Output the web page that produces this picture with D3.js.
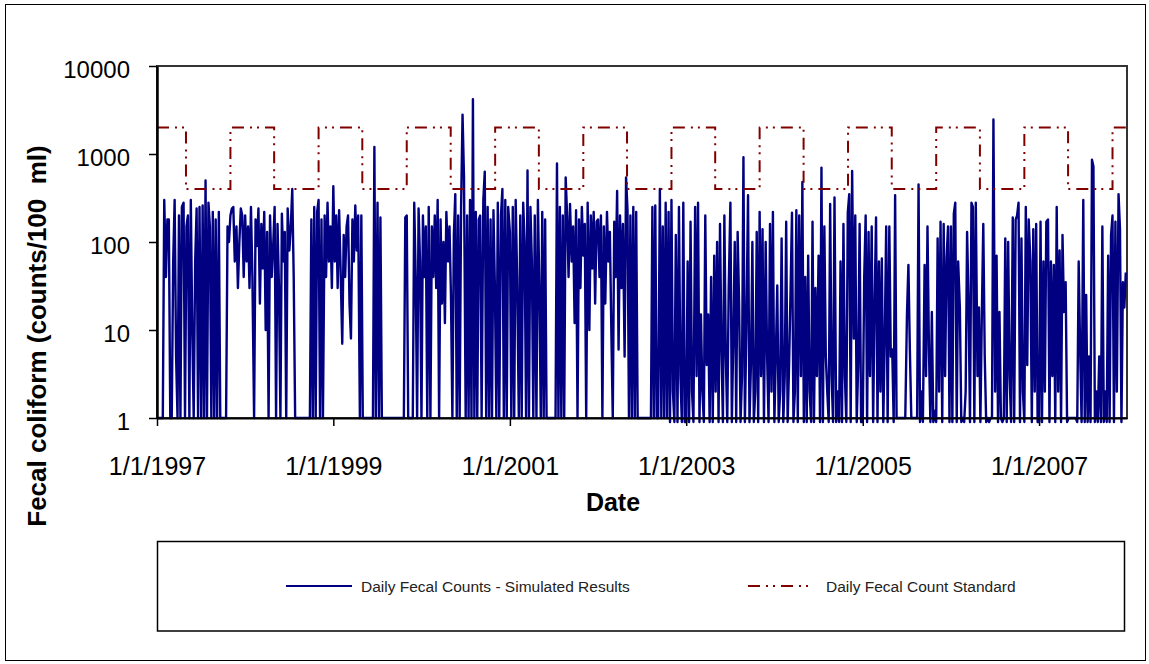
<!DOCTYPE html>
<html>
<head>
<meta charset="utf-8">
<script src="https://cdn.jsdelivr.net/npm/d3@7"></script>
<style>
  html, body { margin: 0; padding: 0; background: #fff; }
  svg { display: block; font-family: "Liberation Sans", Arial, sans-serif; }
</style>
</head>
<body>
<svg id="chart" width="1149" height="664"></svg>
<script>
// ---- Simulated daily fecal coliform counts (counts/100 ml), sampled ~every 6 days ----
const seriesYears = [1997, 1998, 1999, 2000, 2001, 2002, 2003, 2004, 2005, 2006, 2007];

const fc1997 = [1,1,1,1,1,300,40,180,180,1, 1,60,300,5,1,200,1,250,280,1, 150,200,1,300,10,1,60,240,1,250,
                1,260,1,500,1,280,150,1,220,1, 180,1,220,1,1,1,1,1,150,100, 200,240,250,60,150,30,100,240,200,40];
const fc1998 = [200,60,150,30,250,40,1,180,90,240, 20,160,50,220,10,130,1,200,40,90, 250,1,160,30,1,210,60,130,1,240,
                80,150,400,40,1,1,1,1,1,1, 1,1,1,1,1,180,1,250,1,220, 300,1,180,1,200,40,280,60,150,30];
const fc1999 = [430,60,200,30,230,50,7,120,40,150, 200,20,8,180,60,260,80,200,1,200, 1,1,1,1,1,1,1,1,1200,1,
                280,1,190,1,1,1,1,1,1,1, 1,1,1,1,1,1,1,1,1,190, 200,1,1,1,1,280,40,1,240,60];
const fc2000 = [1,200,40,150,1,250,1,150,40,200, 30,300,1,180,20,100,12,220,60,150, 25,1,120,350,1,200,1,250,2800,550,
                1,200,1,300,1,4200,1,220,1,180, 200,1,300,630,1,250,1,180,1,230, 30,1,280,1,200,400,1,300,1,250];
const fc2001 = [130,1,250,1,300,40,1,200,1,280, 100,1,650,1,250,60,1,200,1,300, 30,1,220,1,180,1,1,1,1,1,
                1,1,780,1,250,1,200,1,540,200, 40,270,60,150,12,230,1,180,30,250, 70,160,1,280,10,200,50,220,20,170];
const fc2002 = [180,40,200,1,150,20,220,60,130,10, 1,170,40,380,6,200,30,160,5,540, 230,1,200,1,250,1,220,1,1,1,
                1,1,1,1,1,1,1,250,1,260, 1,1,400,1,150,1,280,1,220,0.9, 300,2,0.9,120,0.9,250,3,0.9,280,0.9];
const fc2003 = [0.9,60,0.9,170,2,0.9,250,3,280,0.9, 15,2,0.9,200,4,15,0.9,40,0.9,70, 2,100,0.9,160,6,0.9,200,5,0.9,30,
                280,0.9,8,100,0.9,130,20,0.9,3,920, 0.9,10,340,0.9,4,100,0.9,2,130,0.9, 220,3,140,0.9,100,5,0.9,160,2,220];
const fc2004 = [0.9,5,32,0.9,2,110,0.9,3,170,0.9, 4,28,215,0.9,2,230,0.9,200,3,480, 0.9,40,0.9,70,2,0.9,170,0.9,30,3,
                70,0.9,700,0.9,150,5,2,0.9,270,3, 0.9,320,0.9,2,0.9,60,0.9,160,3,0.9, 215,350,0.9,640,8,200,0.9,4,160,0.9];
const fc2005 = [0.9,40,200,0.9,130,3,150,0.9,20,190, 0.9,60,2,65,0.9,8,150,0.9,150,5, 6,0.9,340,1,1,1,1,1,1,1,
                15,55,6,1,1,1,1,1,450,0.9, 2,0.9,55,3,150,6,0.9,16,0.9,1.2, 0.9,110,2,170,0.9,160,3,65,150,0.9];
const fc2006 = [150,0.9,210,280,0.9,60,18,0.9,1,0.9, 2,130,20,0.9,280,250,0.9,280,3,18, 0.9,15,160,5,0.9,1,0.9,1,1,2470,
                2,70,0.9,16,1,0.9,1,110,0.9,100, 3,0.9,190,0.9,180,200,280,0.9,110,2, 0.9,250,4,180,60,0.9,140,2,160,0.9];
const fc2007 = [0.9,170,0.9,60,2,170,180,0.9,60,3, 55,0.9,250,2,80,0.9,120,16,35,0.9, 1,1,1,1,1,1,0.9,60,6,0.9,
                300,0.9,25,0.9,5,0.9,860,720,0.9,2, 0.9,5,0.9,150,0.9,2,0.9,70,0.9,120, 200,0.9,170,2,350,140,0.9,35,18,45];

const dailyCounts = [fc1997, fc1998, fc1999, fc2000, fc2001, fc2002, fc2003, fc2004, fc2005, fc2006, fc2007];

// ---- Seasonal standard: step changes (value holds until the next date) ----
const standardDates = ["1997-01-01","1997-05-01","1997-11-01","1998-05-01","1998-11-01","1999-05-01","1999-11-01",
                       "2000-05-01","2000-11-01","2001-05-01","2001-11-01","2002-05-01","2002-11-01","2003-05-01",
                       "2003-11-01","2004-05-01","2004-11-01","2005-05-01","2005-11-01","2006-05-01","2006-11-01",
                       "2007-05-01","2007-11-01","2007-12-31"];
const standardValues = [2000,400,2000,400,2000,400,2000,400,2000,400,2000,400,2000,400,2000,400,2000,400,2000,400,2000,400,2000,2000];

// ---- Axis ticks and labels ----
const yTickValues = [1, 10, 100, 1000, 10000];
const xTickLabels = ["1/1/1997", "1/1/1999", "1/1/2001", "1/1/2003", "1/1/2005", "1/1/2007"];
const xDomain = ["1997-01-01", "2007-12-31"];
const legendLabels = ["Daily Fecal Counts - Simulated Results", "Daily Fecal Count Standard"];

// ---- Build rows ----
const parseISO = d3.timeParse("%Y-%m-%d");
const parseTick = d3.timeParse("%m/%d/%Y");

const daily = [];
seriesYears.forEach((yr, k) => {
  const vals = dailyCounts[k];
  vals.forEach((v, i) => {
    daily.push({ date: new Date(yr, 0, 1 + Math.round(i * 365 / vals.length)), value: v });
  });
});
const standard = standardDates.map((d, i) => ({ date: parseISO(d), value: standardValues[i] }));

// ---- Layout ----
const plot = { left: 157, right: 1127, top: 66, bottom: 418 };
const svg = d3.select("#chart");

const x = d3.scaleTime().domain(xDomain.map(parseISO)).range([plot.left, plot.right]);
const y = d3.scaleLog().domain([1, 10000]).range([plot.bottom, plot.top]);

const navy = "#000080";
const maroon = "#800000";
const dashPattern = "12,6,2,5,2,6";

// outer chart border
svg.append("rect")
  .attr("x", 5.5).attr("y", 4.5).attr("width", 1140).attr("height", 656)
  .attr("fill", "#fff").attr("stroke", "#000").attr("stroke-width", 1);

// plot area frame
svg.append("rect")
  .attr("x", plot.left).attr("y", plot.top)
  .attr("width", plot.right - plot.left).attr("height", plot.bottom - plot.top)
  .attr("fill", "none").attr("stroke", "#333").attr("stroke-width", 2);

// simulated daily counts
const countLine = d3.line().x(d => x(d.date)).y(d => y(d.value));
svg.append("path")
  .datum(daily)
  .attr("d", countLine)
  .attr("fill", "none")
  .attr("stroke", navy)
  .attr("stroke-width", 2.4)
  .attr("stroke-linejoin", "round");

// standard step line
const stdLine = d3.line().x(d => x(d.date)).y(d => y(d.value)).curve(d3.curveStepAfter);
svg.append("path")
  .datum(standard)
  .attr("d", stdLine)
  .attr("fill", "none")
  .attr("stroke", maroon)
  .attr("stroke-width", 2)
  .attr("stroke-dasharray", dashPattern);

// y axis
const yAxis = d3.axisLeft(y).tickValues(yTickValues).tickFormat(d3.format("d")).tickSize(8).tickSizeOuter(0).tickPadding(19);
const gy = svg.append("g").attr("transform", `translate(${plot.left},0)`).call(yAxis);
gy.select(".domain").attr("stroke", "#000").attr("stroke-width", 2.5);
gy.selectAll(".tick line").attr("stroke", "#000").attr("stroke-width", 1.5);
gy.selectAll(".tick text").attr("font-size", 24).attr("fill", "#000")
  .attr("font-family", "'Liberation Sans', Arial, sans-serif").attr("dy", "0.48em");

// x axis
const xAxis = d3.axisBottom(x).tickValues(xTickLabels.map(parseTick))
  .tickFormat(d3.timeFormat("%-m/%-d/%Y")).tickSize(8).tickSizeOuter(0).tickPadding(31);
const gx = svg.append("g").attr("transform", `translate(0,${plot.bottom})`).call(xAxis);
gx.select(".domain").attr("stroke", "#000").attr("stroke-width", 2);
gx.selectAll(".tick line").attr("stroke", "#000").attr("stroke-width", 1.5);
gx.selectAll(".tick text").attr("font-size", 25).attr("fill", "#000")
  .attr("font-family", "'Liberation Sans', Arial, sans-serif");

// axis titles
svg.append("text")
  .attr("x", 613).attr("y", 511)
  .attr("text-anchor", "middle")
  .attr("font-size", 25).attr("font-weight", "bold")
  .text("Date");

svg.append("text")
  .attr("transform", "translate(46,336) rotate(-90)")
  .attr("text-anchor", "middle")
  .attr("font-size", 26).attr("font-weight", "bold")
  .style("white-space", "pre")
  .text("Fecal coliform (counts/100  ml)");

// legend
svg.append("rect")
  .attr("x", 157.5).attr("y", 541.5).attr("width", 967).attr("height", 89.5)
  .attr("fill", "#fff").attr("stroke", "#000").attr("stroke-width", 1.5);

const legendItems = [
  { label: legendLabels[0], color: navy, dash: null, x1: 286, x2: 352, tx: 361 },
  { label: legendLabels[1], color: maroon, dash: dashPattern, x1: 748, x2: 812, tx: 826 }
];
const lg = svg.append("g");
legendItems.forEach(it => {
  lg.append("line")
    .attr("x1", it.x1).attr("x2", it.x2).attr("y1", 586).attr("y2", 586)
    .attr("stroke", it.color).attr("stroke-width", 2)
    .attr("stroke-dasharray", it.dash);
  lg.append("text")
    .attr("x", it.tx).attr("y", 592)
    .attr("font-size", 15.5).attr("fill", "#222")
    .text(it.label);
});
</script>
</body>
</html>
